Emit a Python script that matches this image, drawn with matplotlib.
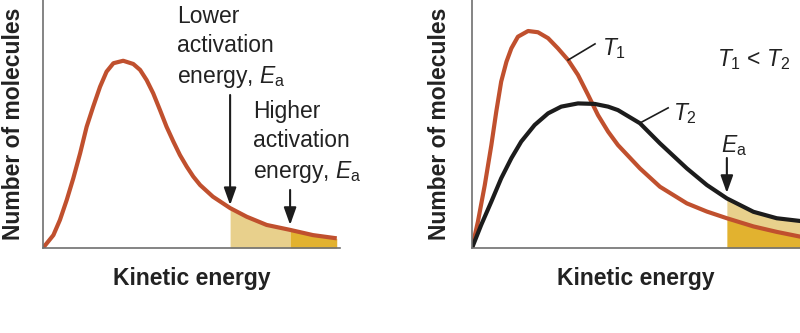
import numpy as np
import matplotlib.pyplot as plt

plt.rcParams['font.family'] = ['Liberation Sans', 'DejaVu Sans']
plt.rcParams['mathtext.fontset'] = 'custom'
plt.rcParams['mathtext.rm'] = 'Liberation Sans'
plt.rcParams['mathtext.it'] = 'Liberation Sans:italic'

# left panel: one distribution, two activation energies (arbitrary units)
energy_left = np.array([0, 3.5, 5.7, 8.0, 10.2, 12.5, 14.7, 16.9, 19.2, 21.4, 23.7, 27.0,
                        30.4, 32.7, 34.9, 37.1, 39.4, 41.6, 43.9, 46.1, 48.4, 50.6, 52.9,
                        57.2, 63.0, 68.6, 75.3, 83.2, 90.9, 98.9])
count_left = np.array([0, 5.2, 11.3, 19.4, 28.1, 38.2, 48.9, 57.0, 65.0, 71.1, 74.5, 75.5,
                       74.2, 71.8, 67.7, 62.4, 55.6, 48.9, 42.9, 37.5, 32.8, 28.8, 25.4,
                       20.7, 16.1, 12.6, 9.3, 7.3, 5.2, 3.9])
ea_low = 63.0
ea_high = 83.2

# right panel: two temperatures
energy_t1 = np.array([0, 1.8, 3.9, 5.9, 7.4, 8.9, 10.5, 12.0, 14.0, 17.1, 20.1, 23.2, 26.2,
                      29.3, 32.3, 35.4, 38.4, 41.5, 44.5, 51.2, 57.3, 65.5, 71.6, 77.7,
                      85.8, 92.9, 100])
count_t1 = np.array([0, 10.6, 25.4, 41.5, 55.0, 67.1, 75.1, 80.5, 85.2, 87.5, 87.0, 84.6,
                     80.5, 75.8, 69.8, 61.7, 53.6, 46.9, 41.5, 32.1, 24.7, 18.0, 14.7,
                     12.0, 8.7, 6.5, 4.6])
energy_t2 = np.array([0, 2.8, 5.9, 8.9, 12.0, 15.0, 19.1, 23.2, 27.2, 32.3, 37.4, 41.5,
                      44.5, 51.2, 57.3, 65.5, 71.6, 77.7, 85.8, 92.9, 100])
count_t2 = np.array([0, 9.3, 18.7, 28.1, 36.2, 42.9, 49.6, 54.3, 57.0, 58.3, 58.1, 57.0,
                     55.6, 50.3, 42.2, 32.1, 25.4, 20.0, 14.6, 12.0, 10.9])
ea_right = 77.7

red = '#c0502e'
black = '#1c1c1c'
tan = '#e8d08c'
gold = '#e2b22f'
gray = '#707070'
txt = '#222222'
fs = 16.5

fig = plt.figure(figsize=(8, 3.33), dpi=100)
ax1 = fig.add_axes([43/800, 85/333, 297/800, 248/333])
ax2 = fig.add_axes([472/800, 85/333, 328/800, 248/333])

for ax in (ax1, ax2):
    ax.set_xlim(0, 100)
    ax.set_ylim(0, 100)
    ax.set_xticks([])
    ax.set_yticks([])
    for s in ['top', 'right']:
        ax.spines[s].set_visible(False)
    for s in ['left', 'bottom']:
        ax.spines[s].set_color(gray)
        ax.spines[s].set_linewidth(1.2)
    ax.text(-0.1, 0.5, 'Number of molecules', transform=ax.transAxes, rotation=90,
            ha='center', va='center', fontsize=fs, fontweight='bold', color=txt)
    ax.text(0.5, -0.149, 'Kinetic energy', transform=ax.transAxes,
            ha='center', va='baseline', fontsize=fs, fontweight='bold', color=txt)

arrow = dict(arrowstyle='-|>,head_length=0.7,head_width=0.25', color=black, lw=1.5,
             mutation_scale=15, shrinkA=0, shrinkB=0)

# left
m = (energy_left >= ea_low) & (energy_left <= ea_high)
ax1.fill_between(energy_left, count_left, where=m, color=tan, lw=0)
ax1.fill_between(energy_left, count_left, where=energy_left >= ea_high, color=gold, lw=0)
ax1.plot(energy_left, count_left, color=red, lw=3, solid_joinstyle='round', solid_capstyle='butt')
ax1.annotate('', xy=(ea_low, 17.3), xytext=(ea_low, 61.7), arrowprops=arrow)
ax1.annotate('', xy=(ea_high, 9.3), xytext=(ea_high, 23.4), arrowprops=arrow)
# va baseline on multi-line text -> last line sits on y
ax1.text(45.1, 66.5, 'Lower\nactivation\nenergy, $E_\\mathrm{a}$', ha='left', va='baseline',
         fontsize=fs, color=txt, linespacing=1.36)
ax1.text(70.7, 28.2, 'Higher\nactivation\nenergy, $E_\\mathrm{a}$', ha='left', va='baseline',
         fontsize=fs, color=txt, linespacing=1.36)

# right
m1 = energy_t1 >= ea_right
m2 = energy_t2 >= ea_right
ax2.fill_between(energy_t1[m1], count_t1[m1], color=gold, lw=0)
ax2.fill_between(energy_t2[m2], count_t1[m1], count_t2[m2], color=tan, lw=0)
ax2.plot(energy_t1, count_t1, color=red, lw=3, solid_joinstyle='round')
ax2.plot(energy_t2, count_t2, color=black, lw=3, solid_joinstyle='round')
ax2.annotate('', xy=(ea_right, 22.2), xytext=(ea_right, 36.3), arrowprops=arrow)
ax2.text(75.8, 38.8, '$E_\\mathrm{a}$', ha='left', va='baseline', fontsize=fs, color=txt)
ax2.plot([29.3, 37.5], [75.8, 82.3], color=black, lw=1.2)
ax2.text(39.6, 77.8, '$T_1$', ha='left', va='baseline', fontsize=fs, color=txt)
ax2.plot([51.2, 59.8], [50.4, 56.5], color=black, lw=1.2)
ax2.text(61.3, 51.6, '$T_2$', ha='left', va='baseline', fontsize=fs, color=txt)
ax2.text(74.7, 73.4, '$T_1$ < $T_2$', ha='left', va='baseline', fontsize=fs, color=txt)

fig.savefig('out.png', dpi=100)
